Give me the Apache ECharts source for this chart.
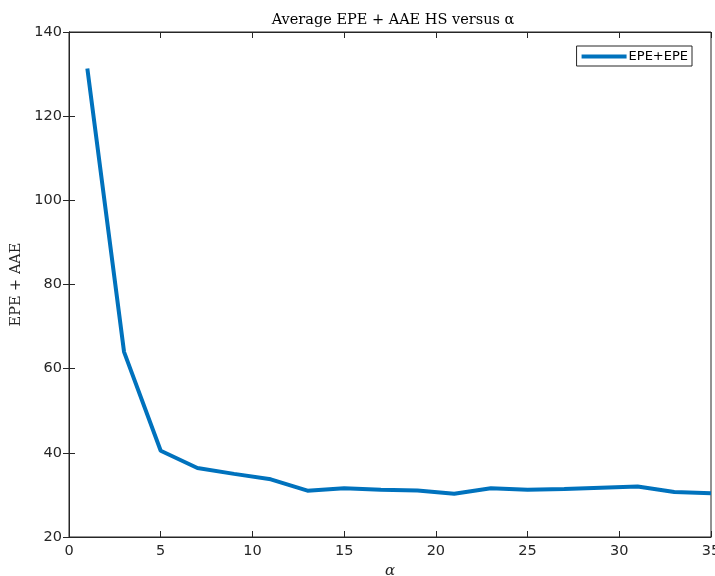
<!DOCTYPE html>
<html><head><meta charset="utf-8">
<script src="https://cdn.jsdelivr.net/npm/echarts@6/dist/echarts.min.js"></script>
<style>html,body{margin:0;padding:0;background:#fff}#c{width:715px;height:576px}</style>
</head><body><div id="c"></div>
<script>
const alphaValues = [1,3,5,7,9,11,13,15,17,19,21,23,25,27,29,31,33,35];
const epeAae = [131.3,64.0,40.5,36.4,35.0,33.7,31.0,31.6,31.2,31.05,30.3,31.6,31.2,31.4,31.7,32.0,30.7,30.4];
const seriesName = 'EPE+EPE';
const titleText = 'Average EPE + AAE HS versus \u03b1';
const yLabel = 'EPE + AAE';
const xLabel = '\u03b1';

const axisColor = '#262626';
const chart = echarts.init(document.getElementById('c'), null, {renderer:'canvas'});
const tickLabel = {color: axisColor, fontFamily: 'DejaVu Sans', fontSize: 14.5};
chart.setOption({
  animation: false,
  backgroundColor: '#fff',
  title: {text: titleText, left: 388, textAlign: 'center', top: 8,
    textStyle: {fontFamily: 'DejaVu Serif', fontWeight: 'normal', fontSize: 14.5, color: '#000'}},
  legend: {data: [{name: seriesName, icon: 'rect'}], right: 23, top: 46, itemWidth: 45, itemHeight: 4, itemGap: 0,
    borderColor: axisColor, borderWidth: 1, padding: [4, 4, 3, 5], backgroundColor: '#fff',
    textStyle: {fontFamily: 'DejaVu Sans', fontSize: 13, color: '#000', padding: [0,0,0,-3]}},
  grid: {left: 69, right: 4, top: 32, bottom: 39, show: true, borderColor: axisColor, borderWidth: 1,
    containLabel: false, outerBoundsMode: 'none'},
  xAxis: [{type: 'value', min: 0, max: 35, interval: 5, position: 'bottom',
    name: xLabel, nameLocation: 'middle', nameGap: 27,
    nameTextStyle: {fontFamily: 'DejaVu Serif', fontStyle: 'italic', fontSize: 15, color: axisColor},
    axisLine: {lineStyle: {color: axisColor}}, axisTick: {inside: true, length: 6, lineStyle: {color: axisColor}},
    axisLabel: Object.assign({margin: 7}, tickLabel), splitLine: {show: false}},
   {type: 'value', min: 0, max: 35, interval: 5, position: 'top',
    axisLine: {lineStyle: {color: axisColor}}, axisTick: {inside: true, length: 6, lineStyle: {color: axisColor}},
    axisLabel: {show: false}, splitLine: {show: false}}],
  yAxis: [{type: 'value', min: 20, max: 140, interval: 20, position: 'left',
    name: yLabel, nameLocation: 'middle', nameGap: 37, nameRotate: 90,
    nameTextStyle: {fontFamily: 'DejaVu Serif', fontSize: 14.5, color: axisColor},
    axisLine: {show: true, lineStyle: {color: axisColor}}, axisTick: {show: true, inside: true, length: 6, lineStyle: {color: axisColor}},
    axisLabel: Object.assign({margin: 7}, tickLabel), splitLine: {show: false}},
   {type: 'value', min: 20, max: 140, interval: 20, position: 'right',
    axisLine: {show: true, lineStyle: {color: axisColor}}, axisTick: {show: true, inside: true, length: 6, lineStyle: {color: axisColor}},
    axisLabel: {show: false}, splitLine: {show: false}}],
  series: [{name: seriesName, type: 'line', xAxisIndex: 0, yAxisIndex: 0,
    data: alphaValues.map((a, i) => [a, epeAae[i]]),
    showSymbol: false, symbol: 'none', color: '#0072BD',
    lineStyle: {color: '#0072BD', width: 4}}]
});
</script></body></html>
